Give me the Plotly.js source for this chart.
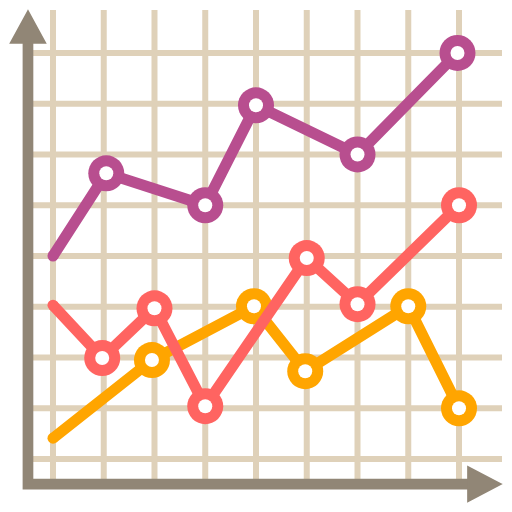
<!DOCTYPE html>
<html>
<head>
<meta charset="utf-8">
<script src="https://cdn.plot.ly/plotly-3.0.1.min.js"></script>
<style>
  html, body { margin: 0; padding: 0; background: #fff; }
  #plot { width: 512px; height: 512px; }
</style>
</head>
<body>
<div id="plot"></div>
<script>
// values in grid units (one cell = 1)
const purpleX = [0, 1.05, 3, 4, 6, 7.97]
const purpleY = [4, 5.63, 5, 6.97, 6, 8]

const orangeX = [0, 1.95, 3.96, 4.97, 7, 8]
const orangeY = [0.41, 1.95, 3.01, 1.73, 3.01, 1]

const redX = [0, 0.97, 2, 3, 5, 6, 8]
const redY = [3.03, 1.99, 2.97, 1.04, 3.96, 3.05, 5]

const gridTicks = [0, 1, 2, 3, 4, 5, 6, 7, 8]

const gridColor = '#dfd1b9'
const axisColor = '#918676'

// line, round start cap, then rings (big coloured dot + small white dot)
function serie (xs, ys, cor) {
  const base = { type: 'scatter', cliponaxis: false, hoverinfo: 'skip' }
  return [
    { ...base, x: xs, y: ys, mode: 'lines', line: { color: cor, width: 11 } },
    { ...base, x: xs.slice(0, 1), y: ys.slice(0, 1), mode: 'markers',
      marker: { size: 11, color: cor, opacity: 1, line: { width: 0 } } },
    { ...base, x: xs.slice(1), y: ys.slice(1), mode: 'markers',
      marker: { size: 36, color: cor, opacity: 1, line: { width: 0 } } },
    { ...base, x: xs.slice(1), y: ys.slice(1), mode: 'markers',
      marker: { size: 14, color: '#ffffff', opacity: 1, line: { width: 0 } } }
  ]
}

const data = [
  ...serie(purpleX, purpleY, '#b84e8f'),
  ...serie(orangeX, orangeY, '#ffa500'),
  ...serie(redX, redY, '#ff6461')
]

const shapes = []
gridTicks.map(t => {
  shapes.push({ type: 'line', layer: 'below', x0: t, x1: t, y0: -0.45, y1: 8.847,
    line: { color: gridColor, width: 6 } })
  shapes.push({ type: 'line', layer: 'below', x0: -0.45, x1: 8.847, y0: t, y1: t,
    line: { color: gridColor, width: 6 } })
})
// axis arrows
shapes.push({ type: 'path', layer: 'below',
  path: 'M -0.493 8.2 L -0.493 -0.493 L 8.2 -0.493',
  line: { color: axisColor, width: 10.7 } })
shapes.push({ type: 'path', layer: 'below',
  path: 'M -0.493 8.82 L -0.83 8.2 L -0.156 8.2 Z',
  fillcolor: axisColor, line: { color: axisColor, width: 2 } })
shapes.push({ type: 'path', layer: 'below',
  path: 'M 8.82 -0.493 L 8.18 -0.16 L 8.18 -0.83 Z',
  fillcolor: axisColor, line: { color: axisColor, width: 2 } })

const layout = {
  width: 512, height: 512,
  margin: { l: 0, r: 0, t: 0, b: 0 },
  paper_bgcolor: '#ffffff', plot_bgcolor: '#ffffff',
  showlegend: false,
  xaxis: { range: [-1.044, 9.044], showgrid: false, zeroline: false, showticklabels: false, ticks: '' },
  yaxis: { range: [-1.044, 9.044], showgrid: false, zeroline: false, showticklabels: false, ticks: '' },
  shapes: shapes
}

Plotly.newPlot('plot', data, layout, { staticPlot: true, displayModeBar: false })
</script>
</body>
</html>
